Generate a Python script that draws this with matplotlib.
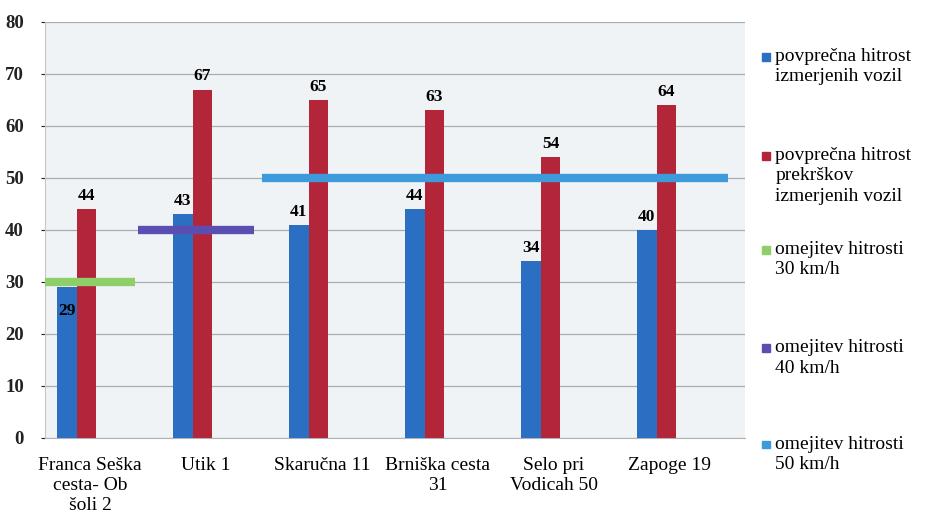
import matplotlib.pyplot as plt
from matplotlib.patches import Rectangle

# data
locations = ["Franca Seška\ncesta- Ob\nšoli 2", "Utik 1", "Skaručna 11",
             "Brniška cesta\n31", "Selo pri\nVodicah 50", "Zapoge 19"]
avg_speed = [29, 43, 41, 44, 34, 40]
avg_speed_offence = [44, 67, 65, 63, 54, 64]
limits = [30, 40, 50]
limit_spans = [(-0.39, 0.39), (0.41, 1.41), (1.48, 5.5)]

legend_labels = ["povprečna hitrost\nizmerjenih vozil",
                 "povprečna hitrost\nprekrškov\nizmerjenih vozil",
                 "omejitev hitrosti\n30 km/h",
                 "omejitev hitrosti\n40 km/h",
                 "omejitev hitrosti\n50 km/h"]

c_blue = "#2b6fc2"
c_red = "#b3263a"
c_lim = ["#8fcf6a", "#5a4fb0", "#3d9bdc"]

plt.rcParams['font.family'] = ['Liberation Serif', 'DejaVu Serif']

fig = plt.figure(figsize=(9.34, 5.22), dpi=100)
ax = fig.add_axes([0.048, 0.161, 0.75, 0.797])
ax.set_facecolor("#f0f3f5")

x = list(range(len(locations)))
w = 0.17
xb = [i - 0.20 for i in x]
xr = [i - 0.03 for i in x]
ax.bar(xb, avg_speed, width=w, color=c_blue, zorder=3)
ax.bar(xr, avg_speed_offence, width=w, color=c_red, zorder=3)

for (a, b), lim, c in zip(limit_spans, limits, c_lim):
    ax.plot([a, b], [lim, lim], color=c, lw=6, solid_capstyle='butt', zorder=4)

# value labels
for i, v in enumerate(avg_speed):
    if v < limits[0] and i == 0:
        ax.text(xb[i], v - 3, str(v), ha='center', va='top', fontsize=12.5,
                fontweight='bold', zorder=5)
    else:
        ax.text(xb[i], v + 1, str(v), ha='center', va='bottom', fontsize=12.5,
                fontweight='bold', zorder=5)
for i, v in enumerate(avg_speed_offence):
    ax.text(xr[i], v + 1, str(v), ha='center', va='bottom', fontsize=12.5,
            fontweight='bold', zorder=5)

ax.set_xlim(-0.39, 5.65)
ax.set_ylim(0, 80)
ax.set_yticks(range(0, 81, 10))
ax.set_xticks(x)
ax.set_xticklabels(locations, fontsize=14, linespacing=1.2)
ax.tick_params(axis='x', length=0, pad=14)
ax.tick_params(axis='y', length=3, pad=12, labelsize=13.5, colors="#222222")
for t in ax.get_yticklabels():
    t.set_fontweight('bold')
ax.yaxis.grid(True, color="#a8adb2", lw=0.9, zorder=0)
for s in ['top', 'right']:
    ax.spines[s].set_visible(False)
ax.spines['left'].set_color("#c4c8cc")
ax.spines['bottom'].set_color("#b0b4b8")

# legend on the right, drawn by hand
leg_y = [0.908, 0.718, 0.538, 0.350, 0.165]
leg_c = [c_blue, c_red] + c_lim
for yy, lab, c in zip(leg_y, legend_labels, leg_c):
    fig.patches.append(Rectangle((0.816, yy - 0.024), 0.008, 0.015, color=c,
                                 transform=fig.transFigure, figure=fig))
    fig.text(0.830, yy, lab, fontsize=14, va='top', ha='left', linespacing=1.25)

fig.savefig("out.png", dpi=100)
